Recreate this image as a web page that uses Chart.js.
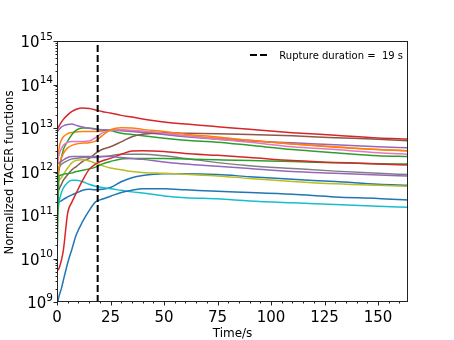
<!DOCTYPE html>
<html>
<head>
<meta charset="utf-8">
<script src="https://cdn.jsdelivr.net/npm/chart.js@4.4.1/dist/chart.umd.min.js"></script>
<style>
  html, body { margin: 0; padding: 0; background: #fff; }
  #wrap { position: relative; width: 454px; height: 340px; }
</style>
</head>
<body>
<div id="wrap"><canvas id="chart"></canvas></div>
<script>
// TACER functions vs time, log y axis, rupture duration marker.

const TIME = [0, 1, 2, 3, 5, 7, 9, 12, 15, 18, 21, 25, 30, 35, 40, 50, 60, 75, 90, 110, 130, 150, 164];

const BLUE_A   = [1.8e11, 2.0e11, 2.1e11, 2.3e11, 2.6e11, 2.9e11, 3.2e11, 3.7e11, 3.9e11, 3.8e11, 3.9e11, 4.3e11, 5.8e11, 7.2e11, 8.1e11, 8.9e11, 8.9e11, 8.5e11, 7.6e11, 6.6e11, 5.9e11, 5.1e11, 4.8e11];
const ORANGE_A = [1.0e12, 3.5e12, 5.2e12, 6.3e12, 7.4e12, 7.9e12, 8.1e12, 8.3e12, 8.3e12, 8.3e12, 8.5e12, 8.9e12, 8.9e12, 8.5e12, 8.1e12, 7.4e12, 6.6e12, 5.9e12, 5.2e12, 4.3e12, 3.7e12, 3.2e12, 3.0e12];
const GREEN_A  = [5.0e11, 1.1e12, 2.0e12, 3.2e12, 5.0e12, 7.1e12, 8.9e12, 1.0e13, 1.0e13, 9.5e12, 9.1e12, 8.7e12, 7.6e12, 7.1e12, 6.6e12, 5.8e12, 5.2e12, 4.7e12, 4.0e12, 3.2e12, 2.7e12, 2.3e12, 2.2e12];
const RED_A    = [8.9e12, 1.12e13, 1.35e13, 1.58e13, 2.0e13, 2.4e13, 2.7e13, 2.9e13, 2.8e13, 2.6e13, 2.4e13, 2.2e13, 1.95e13, 1.78e13, 1.62e13, 1.38e13, 1.23e13, 1.07e13, 9.3e12, 7.8e12, 6.8e12, 5.9e12, 5.6e12];
const PURPLE_A = [7.9e12, 9.3e12, 1.05e13, 1.12e13, 1.2e13, 1.23e13, 1.15e13, 1.05e13, 9.8e12, 9.3e12, 9.1e12, 8.9e12, 8.7e12, 8.3e12, 7.9e12, 7.1e12, 6.3e12, 5.5e12, 5.0e12, 4.6e12, 4.1e12, 3.7e12, 3.5e12];
const BROWN    = [3.2e11, 4.0e11, 5.0e11, 6.3e11, 8.5e11, 1.1e12, 1.3e12, 1.7e12, 2.0e12, 2.6e12, 3.2e12, 3.7e12, 4.8e12, 6.3e12, 7.2e12, 7.8e12, 7.6e12, 7.4e12, 7.1e12, 6.6e12, 6.0e12, 5.5e12, 5.1e12];
const PINK     = [1.6e12, 2.5e12, 3.3e12, 4.0e12, 4.7e12, 4.9e12, 4.9e12, 4.9e12, 5.0e12, 6.0e12, 7.6e12, 8.7e12, 9.1e12, 8.9e12, 8.5e12, 7.6e12, 6.6e12, 5.5e12, 4.7e12, 3.7e12, 3.2e12, 2.7e12, 2.5e12];
const GRAY     = [1.0e12, 1.26e12, 1.45e12, 1.58e12, 1.78e12, 1.95e12, 2.0e12, 2.1e12, 2.1e12, 2.1e12, 2.2e12, 2.3e12, 2.5e12, 2.5e12, 2.5e12, 2.3e12, 2.0e12, 1.6e12, 1.35e12, 1.17e12, 1.02e12, 9.1e11, 8.5e11];
const OLIVE    = [5.6e11, 6.3e11, 7.2e11, 8.5e11, 1.2e12, 1.6e12, 1.8e12, 1.86e12, 1.74e12, 1.55e12, 1.38e12, 1.2e12, 1.1e12, 1.0e12, 9.5e11, 9.1e11, 8.7e11, 7.9e11, 6.9e11, 5.9e11, 5.2e11, 4.8e11, 4.6e11];
const CYAN     = [7.9e10, 2.0e11, 3.2e11, 4.2e11, 5.6e11, 6.3e11, 6.3e11, 5.8e11, 5.1e11, 4.6e11, 4.3e11, 4.0e11, 3.7e11, 3.4e11, 3.2e11, 2.75e11, 2.5e11, 2.35e11, 2.1e11, 1.9e11, 1.74e11, 1.58e11, 1.5e11];
const BLUE_B   = [8.0e8, 1.4e9, 2.0e9, 3.2e9, 7.9e9, 1.66e10, 3.5e10, 7.1e10, 1.26e11, 2.0e11, 2.3e11, 2.7e11, 3.3e11, 3.7e11, 4.0e11, 4.0e11, 3.8e11, 3.5e11, 3.3e11, 3.0e11, 2.6e11, 2.4e11, 2.2e11];
const ORANGE_B = [6.3e11, 1.26e12, 2.0e12, 2.6e12, 3.5e12, 4.0e12, 4.3e12, 4.5e12, 4.6e12, 5.0e12, 6.6e12, 9.1e12, 1.02e13, 1.0e13, 9.3e12, 8.3e12, 7.2e12, 6.2e12, 5.2e12, 4.3e12, 3.6e12, 3.2e12, 2.95e12];
const GREEN_B  = [1.0e10, 7.9e11, 8.3e11, 8.7e11, 8.9e11, 9.3e11, 1.0e12, 1.07e12, 1.15e12, 1.26e12, 1.48e12, 1.7e12, 1.95e12, 2.0e12, 2.0e12, 2.0e12, 1.95e12, 1.86e12, 1.78e12, 1.7e12, 1.58e12, 1.51e12, 1.48e12];
const RED_B    = [5.2e9, 6.0e9, 8.9e9, 1.58e10, 1.12e11, 2.0e11, 3.2e11, 6.3e11, 1.12e12, 1.48e12, 1.74e12, 2.0e12, 2.5e12, 2.95e12, 3.0e12, 2.9e12, 2.6e12, 2.35e12, 2.1e12, 1.78e12, 1.62e12, 1.48e12, 1.41e12];
const PURPLE_B = [1.5e12, 1.58e12, 1.7e12, 1.86e12, 2.1e12, 2.2e12, 2.2e12, 2.2e12, 2.2e12, 2.2e12, 2.2e12, 2.2e12, 2.1e12, 2.0e12, 1.9e12, 1.66e12, 1.48e12, 1.32e12, 1.17e12, 1.0e12, 9.1e11, 8.3e11, 7.9e11];

const SERIES = [BLUE_A, ORANGE_A, GREEN_A, RED_A, PURPLE_A, BROWN, PINK, GRAY, OLIVE, CYAN,
                BLUE_B, ORANGE_B, GREEN_B, RED_B, PURPLE_B];

const X_TICKS   = [0, 25, 50, 75, 100, 125, 150];
const Y_EXPS    = [9, 10, 11, 12, 13, 14, 15];
const RUPTURE   = 19;
const X_MAX     = 164;
const Y_MIN     = 1e9;
const Y_MAX     = 1e15;

const TAB10 = ['#1f77b4', '#ff7f0e', '#2ca02c', '#d62728', '#9467bd',
               '#8c564b', '#e377c2', '#7f7f7f', '#bcbd22', '#17becf'];
const FONT = '"DejaVu Sans", sans-serif';

// ── Ejes estilo matplotlib ─────────────────────────────────────────────────
const axesFrame = {
  id: 'axesFrame',
  afterDraw(chart) {
    const ctx = chart.ctx;
    const a = chart.chartArea;
    const x = chart.scales.x, y = chart.scales.y;
    const L = Math.round(a.left) + 0.5, R = Math.round(a.right) - 0.5;
    const T = Math.round(a.top) + 0.5,  B = Math.round(a.bottom) - 0.5;

    ctx.save();
    ctx.strokeStyle = '#222';
    ctx.lineWidth = 1;
    ctx.strokeRect(L, T, R - L, B - T);

    // x ticks (major 25, minor 5)
    ctx.beginPath();
    for (let v = 0; v <= X_MAX; v += 5) {
      const px = Math.round(x.getPixelForValue(v)) + 0.5;
      const len = (v % 25 === 0) ? 4 : 2;
      ctx.moveTo(px, B); ctx.lineTo(px, B + len);
    }
    // y ticks (major decades, minor 2..9)
    Y_EXPS.forEach(e => {
      const py = Math.round(y.getPixelForValue(Math.pow(10, e))) + 0.5;
      ctx.moveTo(L - 4, py); ctx.lineTo(L, py);
      if (e < 15) {
        for (let m = 2; m <= 9; m++) {
          const pm = Math.round(y.getPixelForValue(m * Math.pow(10, e))) + 0.5;
          ctx.moveTo(L - 2, pm); ctx.lineTo(L, pm);
        }
      }
    });
    ctx.stroke();

    ctx.fillStyle = '#000';
    // x tick labels
    ctx.font = '15px ' + FONT;
    ctx.textAlign = 'center';
    ctx.textBaseline = 'alphabetic';
    X_TICKS.forEach(v => ctx.fillText(String(v), x.getPixelForValue(v), 321.5));

    // y tick labels 10^n
    Y_EXPS.forEach(e => {
      const py = y.getPixelForValue(Math.pow(10, e));
      ctx.font = '10.5px ' + FONT;
      const ew = ctx.measureText(String(e)).width;
      ctx.textAlign = 'left';
      ctx.fillText(String(e), 53 - ew, py - 1.2);
      ctx.font = '15px ' + FONT;
      ctx.textAlign = 'right';
      ctx.fillText('10', 53 - ew, py + 6.3);
    });

    // axis titles
    ctx.font = '12px ' + FONT;
    ctx.textAlign = 'center';
    ctx.fillText('Time/s', (a.left + a.right) / 2, 337);
    ctx.save();
    ctx.translate(13.3, (a.top + a.bottom) / 2 + 1);
    ctx.rotate(-Math.PI / 2);
    ctx.font = '11.6px ' + FONT;
    ctx.fillText('Normalized TACER functions', 0, 0);
    ctx.restore();

    // legend
    ctx.strokeStyle = '#000';
    ctx.lineWidth = 2;
    ctx.setLineDash([7, 3]);
    ctx.beginPath();
    ctx.moveTo(250, 55); ctx.lineTo(270, 55);
    ctx.stroke();
    ctx.setLineDash([]);
    ctx.font = '10px ' + FONT;
    ctx.textAlign = 'left';
    ctx.fillText('Rupture duration =  ' + RUPTURE + ' s', 279.3, 58.8);
    ctx.restore();
  }
};

// ── Datasets ───────────────────────────────────────────────────────────────
const datasets = SERIES.map((s, i) => ({
  data: TIME.map((t, k) => ({ x: t, y: s[k] })),
  borderColor: TAB10[i % 10],
  borderWidth: 1.5,
  pointRadius: 0,
  fill: false,
  cubicInterpolationMode: 'monotone',
  order: -i
}));

datasets.push({
  data: [{ x: RUPTURE, y: Y_MIN }, { x: RUPTURE, y: Y_MAX }],
  borderColor: '#000',
  borderWidth: 2,
  borderDash: [7, 3],
  pointRadius: 0,
  tension: 0,
  order: -100
});

new Chart(document.getElementById('chart').getContext('2d'), {
  type: 'line',
  data: { datasets: datasets },
  options: {
    responsive: true,
    maintainAspectRatio: false,
    animation: false,
    layout: { padding: { top: 41, right: 46, left: 0, bottom: 0 } },
    plugins: { legend: { display: false }, tooltip: { enabled: false } },
    scales: {
      x: {
        type: 'linear', min: 0, max: X_MAX,
        ticks: { display: false }, grid: { display: false }, border: { display: false },
        afterFit: s => { s.height = 38; }
      },
      y: {
        type: 'logarithmic', min: Y_MIN, max: Y_MAX,
        ticks: { display: false }, grid: { display: false }, border: { display: false },
        afterFit: s => { s.width = 57; }
      }
    }
  },
  plugins: [axesFrame]
});
</script>
</body>
</html>
